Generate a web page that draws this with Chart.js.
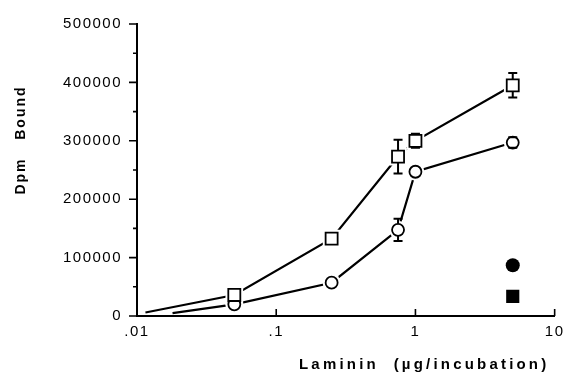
<!DOCTYPE html>
<html>
<head>
<meta charset="utf-8">
<script src="https://cdn.jsdelivr.net/npm/chart.js@4/dist/chart.umd.min.js"></script>
<style>
  html, body { margin: 0; padding: 0; background: #fff; }
  #wrap { width: 570px; height: 377px; position: relative; }
</style>
</head>
<body>
<div id="wrap"><canvas id="c" width="570" height="377"></canvas></div>
<script>
// ---- data ----
const xSquare   = [0.0115, 0.05, 0.25, 0.75, 1, 5];
const ySquare   = [6000, 36000, 132500, 273000, 300000, 395000];
const errSquare = [0, 0, 0, 29000, 12000, 21000];

const xCircle   = [0.018, 0.05, 0.25, 0.75, 1, 5];
const yCircle   = [5000, 20000, 57000, 147600, 247000, 297000];
const errCircle = [0, 0, 0, 19000, 0, 9000];

const xFilled       = [5];
const yFilledCircle = [87000];
const yFilledSquare = [33500];

const xTickValues = [0.01, 0.1, 1, 10];
const xTickLabels = ['.01', '.1', '1', '10'];
const yTickValues = [0, 100000, 200000, 300000, 400000, 500000];
const yMinorTicks = [50000, 150000, 250000, 350000, 450000];

const xTitle = 'Laminin  (\u00b5g/incubation)';
const yTitle = 'Dpm   Bound';

// ---- helpers ----
const pts = (xs, ys) => xs.map((x, i) => ({x: x, y: ys[i]}));
const SQ_R = 8.5, CI_R = 6;
const markR = (xs, r) => xs.map((x, i) => i === 0 ? 0 : r);

const errorBars = {
  id: 'errorBars',
  afterDatasetsDraw(chart) {
    const ctx = chart.ctx, xs = chart.scales.x, ys = chart.scales.y;
    const sets = [
      {x: xSquare, y: ySquare, e: errSquare, half: SQ_R * Math.SQRT1_2},
      {x: xCircle, y: yCircle, e: errCircle, half: CI_R}
    ];
    ctx.save();
    ctx.strokeStyle = '#000';
    ctx.lineWidth = 2;
    sets.forEach(s => {
      s.x.forEach((xv, i) => {
        if (!s.e[i]) return;
        const px = xs.getPixelForValue(xv);
        const py = ys.getPixelForValue(s.y[i]);
        const top = ys.getPixelForValue(s.y[i] + s.e[i]);
        const bot = ys.getPixelForValue(s.y[i] - s.e[i]);
        ctx.beginPath();
        ctx.moveTo(px, Math.min(top, py - s.half)); ctx.lineTo(px, py - s.half);
        ctx.moveTo(px, Math.max(bot, py + s.half)); ctx.lineTo(px, py + s.half);
        ctx.moveTo(px - 4.5, top); ctx.lineTo(px + 4.5, top);
        ctx.moveTo(px - 4.5, bot); ctx.lineTo(px + 4.5, bot);
        ctx.stroke();
      });
    });
    ctx.restore();
  }
};

const axisDecor = {
  id: 'axisDecor',
  beforeDraw(chart) {
    chart.ctx.letterSpacing = '1.5px';
  },
  afterDraw(chart) {
    const ctx = chart.ctx, xs = chart.scales.x, ys = chart.scales.y;
    const a = chart.chartArea;
    ctx.save();
    ctx.strokeStyle = '#000';
    ctx.lineWidth = 1.6;
    ctx.beginPath();
    yTickValues.forEach(v => {
      const p = ys.getPixelForValue(v);
      ctx.moveTo(a.left - 8, p); ctx.lineTo(a.left, p);
    });
    yMinorTicks.forEach(v => {
      const p = ys.getPixelForValue(v);
      ctx.moveTo(a.left - 4, p); ctx.lineTo(a.left, p);
    });
    xTickValues.forEach((v, i) => {
      if (i === 0) return;
      const p = xs.getPixelForValue(v);
      ctx.moveTo(p, a.bottom); ctx.lineTo(p, a.bottom - 7);
    });
    ctx.stroke();

    ctx.fillStyle = '#000';
    ctx.font = 'bold 15px "Liberation Sans", Arial, sans-serif';
    ctx.letterSpacing = '3.2px';
    ctx.textAlign = 'left';
    ctx.textBaseline = 'alphabetic';
    ctx.fillText(xTitle, 299, 369);

    ctx.font = 'bold 14px "Liberation Sans", Arial, sans-serif';
    ctx.letterSpacing = '2px';
    ctx.translate(25, 140);
    ctx.rotate(-Math.PI / 2);
    ctx.textAlign = 'center';
    ctx.fillText(yTitle, 0, 0);
    ctx.restore();
  }
};

const tickFont = {family: '"Liberation Sans", Arial, sans-serif', size: 15};

new Chart(document.getElementById('c'), {
  type: 'scatter',
  data: {
    datasets: [
      {data: pts(xSquare, ySquare), showLine: true, borderColor: '#000', borderWidth: 2.2,
       pointRadius: 0, order: 10},
      {data: pts(xCircle, yCircle), showLine: true, borderColor: '#000', borderWidth: 2.2,
       pointRadius: 0, order: 10},
      {data: pts(xSquare, ySquare), showLine: false, pointStyle: 'rect',
       pointRadius: markR(xSquare, SQ_R + 4), backgroundColor: '#fff', borderColor: '#fff',
       pointBorderWidth: 0, order: 5},
      {data: pts(xCircle, yCircle), showLine: false, pointStyle: 'circle',
       pointRadius: markR(xCircle, CI_R + 3), backgroundColor: '#fff', borderColor: '#fff',
       pointBorderWidth: 0, order: 5},
      {data: pts(xSquare, ySquare), showLine: false, pointStyle: 'rect',
       pointRadius: markR(xSquare, SQ_R), backgroundColor: '#fff', borderColor: '#000',
       pointBorderWidth: 1.8, order: 1},
      {data: pts(xCircle, yCircle), showLine: false, pointStyle: 'circle',
       pointRadius: markR(xCircle, CI_R), backgroundColor: '#fff', borderColor: '#000',
       pointBorderWidth: 1.8, order: 1},
      {data: pts(xFilled, yFilledCircle), showLine: false, pointStyle: 'circle',
       pointRadius: 7, backgroundColor: '#000', borderColor: '#000', pointBorderWidth: 0, order: 1},
      {data: pts(xFilled, yFilledSquare), showLine: false, pointStyle: 'rect',
       pointRadius: 9.3, backgroundColor: '#000', borderColor: '#000', pointBorderWidth: 0, order: 1}
    ]
  },
  options: {
    responsive: false,
    animation: false,
    events: [],
    layout: {padding: {top: 18, right: 12, left: 0, bottom: 0}},
    plugins: {legend: {display: false}, tooltip: {enabled: false}},
    scales: {
      x: {
        type: 'logarithmic', min: 0.01, max: 10,
        afterBuildTicks: s => { s.ticks = xTickValues.map(v => ({value: v})); },
        afterFit: s => { s.height = 61; },
        ticks: {
          color: '#000', font: tickFont, padding: 7, maxRotation: 0, autoSkip: false,
          callback: (v) => { const i = xTickValues.indexOf(v); return i >= 0 ? xTickLabels[i] : ''; }
        },
        grid: {display: true, drawOnChartArea: false, drawTicks: false},
        border: {display: true, color: '#000', width: 2}
      },
      y: {
        min: 0, max: 500000,
        afterBuildTicks: s => { s.ticks = yTickValues.map(v => ({value: v})); },
        afterFit: s => { s.width = 137; },
        ticks: {color: '#000', font: tickFont, padding: 15, callback: v => String(v)},
        grid: {display: true, drawOnChartArea: false, drawTicks: false},
        border: {display: true, color: '#000', width: 2}
      }
    }
  },
  plugins: [errorBars, axisDecor]
});
</script>
</body>
</html>
